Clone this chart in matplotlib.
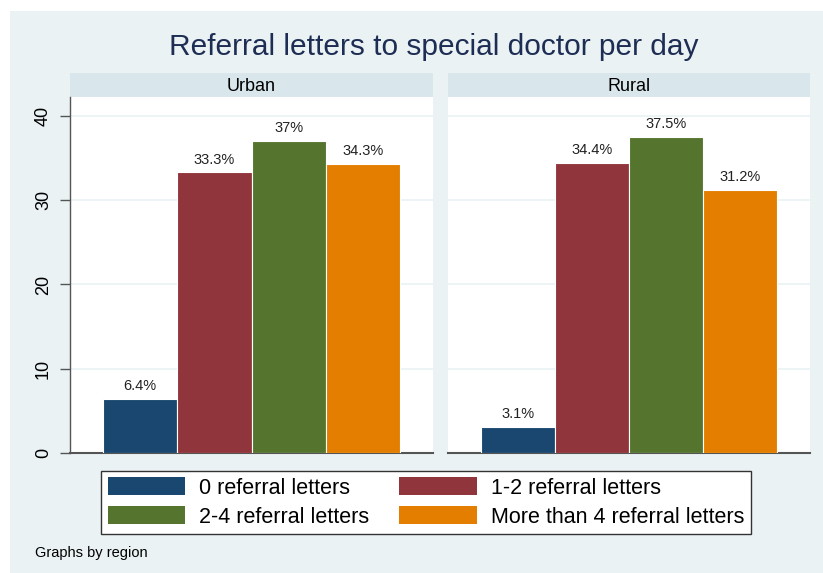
import matplotlib
matplotlib.use("Agg")
from matplotlib import pyplot as plt
from matplotlib.patches import Rectangle, Patch
import numpy as np

plt.rcParams['font.family'] = ['Liberation Sans', 'DejaVu Sans']

regions = ["Urban", "Rural"]
categories = ["0 referral letters", "1-2 referral letters",
              "2-4 referral letters", "More than 4 referral letters"]
urban = [6.4, 33.3, 37.0, 34.3]
rural = [3.1, 34.4, 37.5, 31.2]
labels_urban = ["6.4%", "33.3%", "37%", "34.3%"]
labels_rural = ["3.1%", "34.4%", "37.5%", "31.2%"]
yticks = [0, 10, 20, 30, 40]

colors = ["#1A476F", "#90353B", "#55752F", "#E37E00"]
bg = "#EAF2F3"
strip_bg = "#D9E6EB"

W, H = 823, 573
fig = plt.figure(figsize=(W / 100, H / 100), dpi=100)
fig.patch.set_facecolor("white")
fig.add_artist(Rectangle((10 / W, 0), 1 - 10 / W, 1 - 11 / H,
                         transform=fig.transFigure, facecolor=bg,
                         edgecolor="none", zorder=-10))


def px_axes(x0, y0, x1, y1):
    # pixel box (top-left origin) -> figure axes
    return fig.add_axes([x0 / W, 1 - y1 / H, (x1 - x0) / W, (y1 - y0) / H])


fig.text(434 / W, 1 - 47 / H, "Referral letters to special doctor per day",
         ha="center", va="center", fontsize=21.5, color="#1E2D53")

panels = [(70, 433, urban, labels_urban), (448, 810, rural, labels_rural)]
x = np.arange(len(categories))
for i, (x0, x1, vals, labs) in enumerate(panels):
    strip = px_axes(x0, 73, x1, 97)
    strip.set_facecolor(strip_bg)
    strip.set_xticks([])
    strip.set_yticks([])
    for s in strip.spines.values():
        s.set_visible(False)
    strip.text(0.5, 0.45, regions[i], ha="center", va="center",
               fontsize=13, color="black", transform=strip.transAxes)

    ax = px_axes(x0, 97, x1, 453)
    ax.set_facecolor("white")
    ax.bar(x, vals, width=1.0, color=colors, edgecolor="white",
           linewidth=0.8, zorder=3)
    for xi, v, lab in zip(x, vals, labs):
        ax.text(xi, v + 0.7, lab, ha="center", va="bottom", fontsize=10.5,
                color="#222222")
    ax.set_xlim(-0.5 - 0.444, 3.5 + 0.444)
    ax.set_ylim(0, 42.25)
    ax.set_yticks(yticks)
    ax.yaxis.grid(True, color="#EAF2F3", linewidth=1.2, zorder=0)
    ax.set_xticks([])
    for s in ["top", "right"]:
        ax.spines[s].set_visible(False)
    ax.spines["bottom"].set_color("#555555")
    ax.spines["bottom"].set_linewidth(1.5)
    if i == 0:
        ax.spines["left"].set_color("#555555")
        ax.spines["left"].set_linewidth(1.0)
        ax.tick_params(axis="y", length=7, width=1, color="#555555",
                       labelsize=13, pad=6)
        for t in ax.get_yticklabels():
            t.set_rotation(90)
            t.set_va("center")
    else:
        ax.spines["left"].set_visible(False)
        ax.tick_params(axis="y", left=False, labelleft=False)

handles = [Patch(facecolor=c, edgecolor="none") for c in colors]
order = [0, 2, 1, 3]
leg = fig.legend([handles[j] for j in order], [categories[j] for j in order],
                 ncol=2, loc="center",
                 bbox_to_anchor=(426 / W, 1 - 502.5 / H),
                 fontsize=15.5, frameon=True, fancybox=False, framealpha=1,
                 handlelength=3.6, handleheight=0.9, columnspacing=1.4,
                 handletextpad=0.65, labelspacing=0.35, borderpad=0.3,
                 borderaxespad=0)
leg.get_frame().set_edgecolor("#333333")
leg.get_frame().set_linewidth(1.0)

fig.text(35 / W, 1 - 553 / H, "Graphs by region", ha="left", va="center",
         fontsize=10.5, color="black")

fig.savefig("out.png", dpi=100, facecolor=fig.get_facecolor())
